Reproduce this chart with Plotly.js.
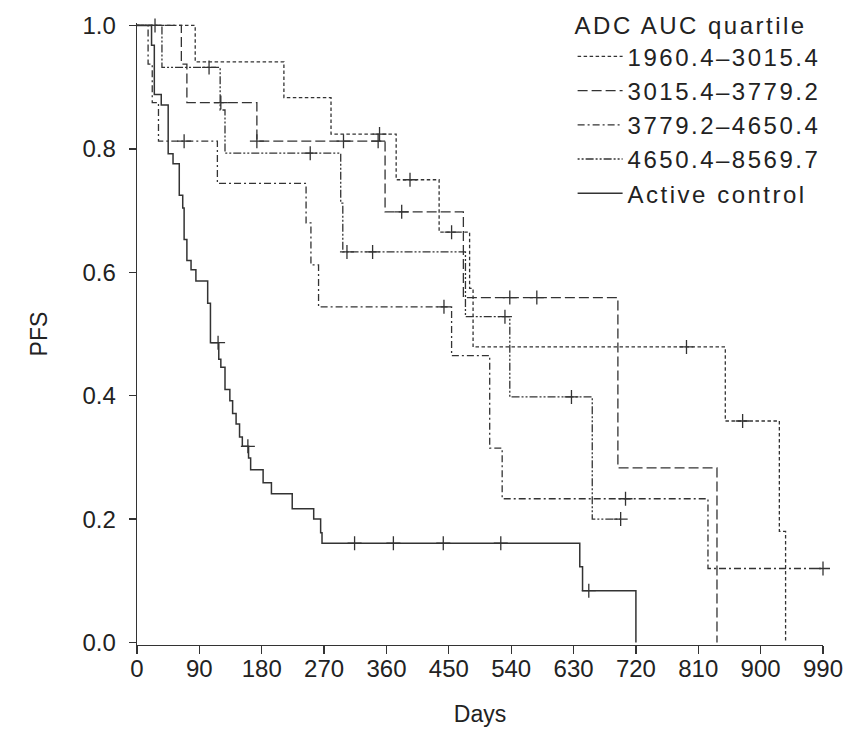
<!DOCTYPE html>
<html>
<head>
<meta charset="utf-8">
<script src="https://cdn.plot.ly/plotly-3.0.1.min.js"></script>
<style>
html,body{margin:0;padding:0;background:#fff;}
#chart{width:854px;height:734px;}
.legendtext, .legendtitletext{letter-spacing:2.5px;}
</style>
</head>
<body>
<div id="chart"></div>
<script>
// ---- Data ----
var seriesNames = ['1960.4\u20133015.4', '3015.4\u20133779.2', '3779.2\u20134650.4', '4650.4\u20138569.7', 'Active control'];

var q1Days = [0, 84, 212, 280, 374, 436, 480, 485, 849, 927, 936];
var q1Surv = [1.0, 0.941, 0.883, 0.824, 0.75, 0.665, 0.574, 0.479, 0.359, 0.18, 0];
var q1CensDays = [26, 350, 394, 454, 793, 874];
var q1CensSurv = [1.0, 0.824, 0.75, 0.665, 0.479, 0.359];

var q2Days = [0, 64, 72, 173, 358, 471, 694, 837];
var q2Surv = [1.0, 0.9375, 0.875, 0.8125, 0.698, 0.559, 0.283, 0];
var q2CensDays = [121, 173, 298, 348, 382, 538, 577];
var q2CensSurv = [0.875, 0.8125, 0.8125, 0.8125, 0.698, 0.559, 0.559];

var q3Days = [0, 16, 22, 31, 116, 244, 251, 262, 454, 509, 527, 824, 990];
var q3Surv = [1.0, 0.9375, 0.875, 0.8125, 0.744, 0.68, 0.612, 0.544, 0.465, 0.315, 0.233, 0.12, 0.12];
var q3CensDays = [68, 443, 705, 990];
var q3CensSurv = [0.8125, 0.544, 0.233, 0.12];

var q4Days = [0, 36, 120, 127, 294, 297, 474, 538, 657, 698];
var q4Surv = [1.0, 0.932, 0.863, 0.793, 0.712, 0.633, 0.528, 0.398, 0.2, 0.2];
var q4CensDays = [104, 250, 303, 340, 531, 627, 698];
var q4CensSurv = [0.932, 0.793, 0.633, 0.633, 0.528, 0.398, 0.2];

var ctrlDays = [0, 21, 25, 35, 45, 52, 61, 66, 68, 72, 78, 85, 102, 106, 118, 121, 127, 134, 138, 143, 148, 152, 161, 164, 182, 194, 224, 255, 265, 267, 639, 643, 720];
var ctrlSurv = [1.0, 0.968, 0.888, 0.871, 0.792, 0.776, 0.725, 0.704, 0.653, 0.619, 0.604, 0.586, 0.55, 0.486, 0.459, 0.446, 0.41, 0.392, 0.371, 0.354, 0.333, 0.318, 0.299, 0.28, 0.259, 0.241, 0.217, 0.2, 0.178, 0.161, 0.123, 0.084, 0];
var ctrlCensDays = [117, 160, 314, 370, 442, 525, 652];
var ctrlCensSurv = [0.486, 0.318, 0.161, 0.161, 0.161, 0.161, 0.084];

var xTicks = [0, 90, 180, 270, 360, 450, 540, 630, 720, 810, 900, 990];
var yTicks = [0, 0.2, 0.4, 0.6, 0.8, 1.0];
var yTickText = ['0.0', '0.2', '0.4', '0.6', '0.8', '1.0'];

// ---- Styles ----
var ink = '#333333';
var dashes = ['3.5px,2.5px', '10px,4px', '7px,3px,2px,3px', '2px,2px,2px,2px,8px,2px', 'solid'];
var widths = [1.3, 1.3, 1.3, 1.3, 1.5];

var curves = [
  [q1Days, q1Surv, q1CensDays, q1CensSurv],
  [q2Days, q2Surv, q2CensDays, q2CensSurv],
  [q3Days, q3Surv, q3CensDays, q3CensSurv],
  [q4Days, q4Surv, q4CensDays, q4CensSurv],
  [ctrlDays, ctrlSurv, ctrlCensDays, ctrlCensSurv]
];

var traces = [];
curves.forEach(function (c, i) {
  traces.push({
    type: 'scatter', mode: 'lines', name: seriesNames[i],
    x: c[0], y: c[1],
    line: {shape: 'hv', color: ink, width: widths[i], dash: dashes[i]},
    showlegend: true, hoverinfo: 'skip'
  });
});
curves.forEach(function (c, i) {
  traces.push({
    type: 'scatter', mode: 'markers',
    x: c[2], y: c[3], showlegend: false, cliponaxis: false, hoverinfo: 'skip',
    marker: {symbol: 'cross-thin', size: 10, color: ink, line: {color: ink, width: 1.3}}
  });
});

var fontFam = 'Liberation Sans, Arial, Helvetica, sans-serif';

var layout = {
  width: 854, height: 734,
  margin: {l: 137, r: 31, t: 23, b: 89, autoexpand: false},
  paper_bgcolor: '#ffffff', plot_bgcolor: '#ffffff',
  font: {family: fontFam, color: '#222222', size: 23},
  showlegend: true,
  legend: {
    x: 0.635, y: 1.032, xanchor: 'left', yanchor: 'top',
    bgcolor: 'rgba(0,0,0,0)', borderwidth: 0,
    font: {family: fontFam, size: 24, color: '#222222'},
    title: {text: 'ADC AUC quartile', font: {family: fontFam, size: 24, color: '#222222'}},
    itemwidth: 45, tracegroupgap: 0
  },
  xaxis: {
    range: [0, 990], tickvals: xTicks, ticks: 'outside', ticklen: 8, tickwidth: 1.3, tickcolor: ink,
    showline: true, linecolor: ink, linewidth: 1.3, showgrid: false, zeroline: false,
    ticklabelstandoff: -6,
    tickfont: {family: fontFam, size: 24, color: '#222222'},
    title: {text: 'Days', font: {family: fontFam, size: 23, color: '#222222'}, standoff: 24}
  },
  yaxis: {
    range: [-0.004, 1.004], tickvals: yTicks, ticktext: yTickText, ticks: 'outside', ticklen: 7, tickwidth: 1.3, tickcolor: ink,
    showline: true, linecolor: ink, linewidth: 1.3, showgrid: false, zeroline: false,
    ticklabelstandoff: 8,
    tickfont: {family: fontFam, size: 24, color: '#222222'},
    title: {text: 'PFS', font: {family: fontFam, size: 23, color: '#222222'}, standoff: 28}
  }
};

Plotly.newPlot('chart', traces, layout, {displayModeBar: false, staticPlot: true});
</script>
</body>
</html>
